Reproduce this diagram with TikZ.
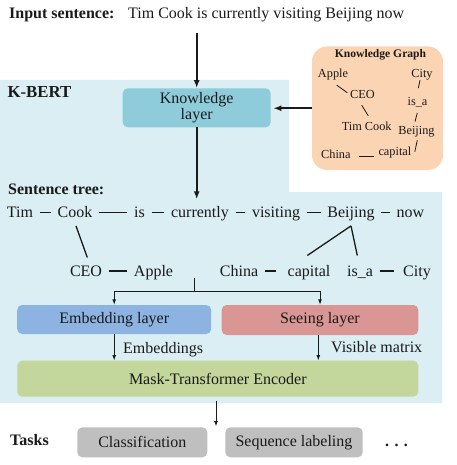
\documentclass[tikz,border=0pt]{standalone}
\usepackage{fontspec}
\setmainfont{Liberation Serif}
\usetikzlibrary{arrows.meta,calc}
\definecolor{bgblue}{HTML}{DAEEF3}
\definecolor{klayercol}{HTML}{8ECCDC}
\definecolor{kgorange}{HTML}{FBD4B4}
\definecolor{embblue}{HTML}{8DB3E2}
\definecolor{seered}{HTML}{DA9694}
\definecolor{maskgreen}{HTML}{C3D69B}
\definecolor{taskgray}{HTML}{BFBFBF}
\definecolor{ink}{HTML}{1A1A1A}
\begin{document}
\begin{tikzpicture}[x=1pt,y=-1pt,
  txt/.style={font=\fontsize{16}{18}\selectfont, text=ink, inner sep=0pt},
  txtb/.style={font=\fontsize{16}{18}\selectfont\bfseries, text=ink, inner sep=0pt},
  word/.style={font=\fontsize{16}{18}\selectfont, text=ink, inner xsep=6.5pt, inner ysep=2pt, text height=12pt, text depth=2pt},
  kgword/.style={font=\fontsize{12.3}{14}\selectfont, text=ink, inner sep=1pt, text height=8.5pt, text depth=2pt},
  layerbox/.style={font=\fontsize{16}{16.5}\selectfont, text=ink, rounded corners=5pt, inner sep=0pt, align=center},
  arrbig/.style={draw=ink, line width=1.6pt, -{Latex[length=8pt,width=6pt]}},
  arrsmall/.style={draw=ink, line width=1pt, -{Latex[length=5.5pt,width=4pt]}},
  treeline/.style={draw=ink, line width=1.3pt},
  kgline/.style={draw=ink, line width=0.8pt},
]
\useasboundingbox (0,0) rectangle (456,465);
\fill[bgblue] (0,80) -- (289,80) -- (289,192) -- (442,192) -- (442,403) -- (0,403) -- cycle;

% input
\node[txtb, anchor=base west] (inlabel) at (9,19) {Input sentence:};
\node[txt, anchor=base west] (insent) at (128,19) {Tim Cook is currently visiting Beijing now};

% knowledge graph
\node[fill=kgorange, rounded corners=15pt, minimum width=131pt, minimum height=123.5pt, inner sep=0pt] (kg) at (377.5,108.25) {};
\node[font=\fontsize{11.6}{13}\selectfont\bfseries, text=ink, inner sep=0pt, anchor=base] (kgtitle) at (380.5,58) {Knowledge Graph};
\node[kgword] (kapple) at (333,74) {Apple};
\node[kgword] (kcity) at (422,73.8) {City};
\node[kgword] (kceo) at (362.5,95) {CEO};
\node[kgword] (kisa) at (417.5,101.8) {is\_a};
\node[kgword] (ktim) at (366.7,126.8) {Tim Cook};
\node[kgword] (kbei) at (416.5,130.8) {Beijing};
\node[kgword] (kchina) at (335.9,155) {China};
\node[kgword] (kcap) at (394.9,152) {capital};
\draw[kgline] ($(kapple.south)+(3.7,4.7)$) -- ($(kceo.west)+(-1.7,-2.3)$);
\draw[kgline] ($(kceo.south)+(-0.8,3.75)$) -- ($(ktim.north)+(1.6,-4.5)$);
\draw[kgline] ($(kcity.south)+(-2,0)$) -- ($(kisa.north)+(0.8,-7.2)$);
\draw[kgline] ($(kisa.south)+(-0.2,4.6)$) -- ($(kbei.north)+(-1.5,-2.8)$);
\draw[kgline] ($(kbei.south)+(0.8,3)$) -- ($(kcap.east)+(2.3,-0.3)$);
\draw[kgline] ($(kchina.east)+(7.3,1)$) -- ($(kcap.west)+(-3.7,4)$);

% K-BERT
\node[font=\fontsize{16.8}{19}\selectfont\bfseries, text=ink, inner sep=0pt, anchor=base west] (kbert) at (7.3,97.3) {K-BERT};
\node[layerbox, fill=klayercol, minimum width=148pt, minimum height=39pt] (klayer) at (196.7,107.8) {Knowledge\\layer};
\coordinate (inarrow) at (196.7,33.3);
\draw[arrbig] (inarrow) -- (klayer.north);
\draw[arrbig, shorten >=2.5pt] (kg.west) -- (kg.west -| klayer.east);

% sentence tree
\node[txtb, anchor=base west] (stlabel) at (8,194.3) {Sentence tree:};
\node[word] (tim) at (20,212.5) {Tim};
\node[word] (cook) at (75,212.5) {Cook};
\node[word] (is) at (139.5,212.5) {is};
\node[word] (currently) at (200,212.5) {currently};
\node[word] (visiting) at (276,212.5) {visiting};
\node[word] (beijing) at (351,212.5) {Beijing};
\node[word] (now) at (410.5,212.5) {now};
\node[word] (ceo) at (86,271) {CEO};
\node[word] (apple) at (153.5,271) {Apple};
\node[word] (china) at (239,271) {China};
\node[word] (capital) at (309,271) {capital};
\node[word] (isa) at (360,271) {is\_a};
\node[word] (city) at (417,271) {City};
\draw[arrbig, shorten >=4pt] (klayer.south) -- (klayer.south |- currently.north);
\draw[treeline] (tim) -- (cook);
\draw[treeline] (cook) -- (is);
\draw[treeline] (is) -- (currently);
\draw[treeline] (currently) -- (visiting);
\draw[treeline] (visiting) -- (beijing);
\draw[treeline] (beijing) -- (now);
\draw[treeline] (ceo) -- (apple);
\draw[treeline, shorten >=5pt] (china) -- (capital);
\draw[treeline, shorten >=3pt] (isa) -- (city);
\draw[treeline] ($(cook.south)+(1,4.2)$) -- ($(ceo.north)+(1.3,-4.3)$);
\draw[treeline] ($(beijing.south)+(0,4.2)$) -- ($(capital.north)+(-1.7,-6.3)$);
\draw[treeline] ($(beijing.south)+(0,4.2)$) -- ($(isa.north)+(-2.7,-6.3)$);

% layers
\node[layerbox, fill=embblue, minimum width=194pt, minimum height=29pt] (emb) at (114.2,319.5) {Embedding layer};
\node[layerbox, fill=seered, minimum width=196.6pt, minimum height=30pt] (see) at (320,320) {Seeing layer};
\node[layerbox, fill=maskgreen, minimum width=401pt, minimum height=36pt] (mask) at (217.8,378.7) {Mask-Transformer Encoder};
\coordinate (treeout) at (194.5,277.5);
\coordinate (fork) at (194.5,291.5);
\draw[draw=ink, line width=1pt] (treeout) -- (fork);
\draw[arrsmall] (fork) -| (emb.north);
\draw[arrsmall] (fork) -| (see.north);
\draw[arrsmall] (emb.south) -- (emb.south |- mask.north);
\draw[arrsmall] ([xshift=-1.7pt]see.south) -- ([xshift=-1.7pt]see.south |- mask.north);
\node[txt, anchor=base west] (embl) at (123,353) {Embeddings};
\node[txt, anchor=base west] (visl) at (331,352.3) {Visible matrix};

% tasks
\coordinate (taskstart) at (216,400.5);
\coordinate (taskend) at (216,426.5);
\draw[arrsmall] (taskstart) -- (taskend);
\node[txtb, anchor=base west] (tasks) at (10,445.7) {Tasks};
\node[layerbox, fill=taskgray, minimum width=130pt, minimum height=30pt] (cls) at (142.3,442.3) {Classification};
\node[layerbox, fill=taskgray, minimum width=137.4pt, minimum height=30pt] (seq) at (294,442.3) {Sequence labeling};
\node[txtb, anchor=base west] (dots) at (385,446) {.\,\,.\,\,.};
\end{tikzpicture}
\end{document}
